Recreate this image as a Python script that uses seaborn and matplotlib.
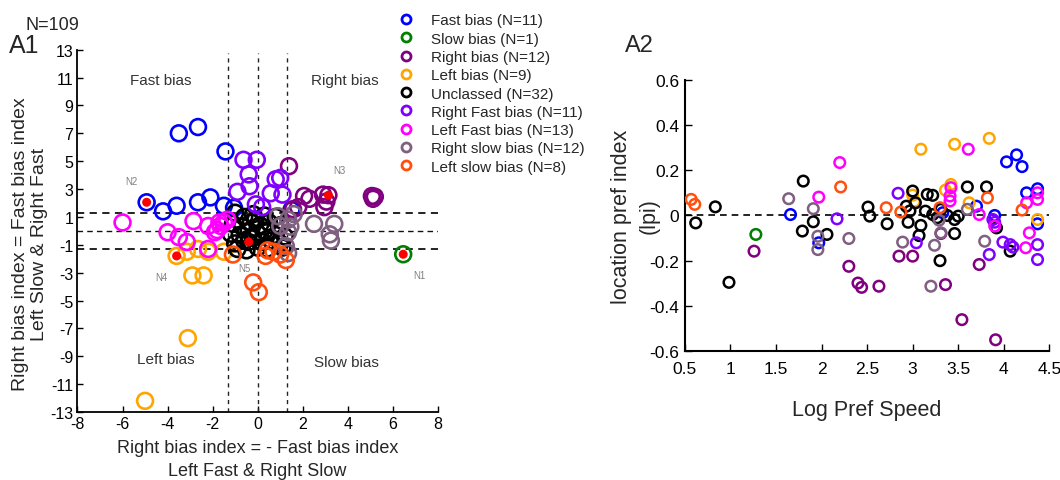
import matplotlib
matplotlib.use("Agg")
import matplotlib.pyplot as plt
from matplotlib.lines import Line2D
import seaborn as sns
import pandas as pd

# ---------------- data ----------------
CLASSES = ["Fast bias", "Slow bias", "Right bias", "Left bias", "Unclassed",
           "Right Fast bias", "Left Fast bias", "Right slow bias", "Left slow bias"]
COUNTS = [11, 1, 12, 9, 32, 11, 13, 12, 8]

# Panel A1: (x, y) per class
A1_FAST = [(-3.5, 7.0), (-2.65, 7.45), (-1.43, 5.7), (-4.93, 2.05), (-4.2, 1.4), (-3.6, 1.8),
           (-2.65, 2.05), (-2.1, 2.4), (-1.5, 1.8), (-1.05, 1.65), (1.5, 1.5)]
A1_SLOW = [(6.46, -1.68)]
A1_RIGHT = [(1.39, 4.64), (2.06, 2.5), (2.9, 2.6), (3.14, 2.56), (2.96, 1.7), (5.07, 2.5),
            (5.2, 2.45), (1.57, 1.55), (2.3, 2.3), (3.05, 2.1), (1.8, 1.7), (5.12, 2.3)]
A1_LEFT = [(-3.6, -1.8), (-3.15, -1.5), (-2.9, -3.2), (-2.4, -3.2), (-3.1, -7.7), (-5.0, -12.2),
           (-2.2, -1.5), (-1.5, -1.5), (-2.65, -1.3)]
A1_UNCL = [(-1.0, 1.3), (-0.6, 1.0), (-0.2, 1.2), (0.3, 1.1), (0.8, 1.0), (-1.1, 0.5), (-0.7, 0.3),
           (-0.3, 0.6), (0.1, 0.4), (0.5, 0.6), (1.0, 0.4), (-1.2, -0.2), (-0.8, -0.3), (-0.4, 0.0),
           (0.0, -0.2), (0.4, -0.1), (0.8, -0.3), (1.2, -0.4), (-1.0, -0.9), (-0.6, -0.7), (-0.2, -0.5),
           (0.2, -0.8), (0.6, -0.7), (1.0, -0.9), (-0.4, -0.8), (-0.9, -1.3), (-0.5, -1.4), (0.0, -1.2),
           (0.4, -1.3), (1.1, -1.2), (0.3, 0.0), (-0.1, 0.8)]
A1_RFAST = [(-0.63, 5.1), (-0.04, 5.1), (-0.4, 4.05), (-0.36, 3.2), (-0.9, 2.8), (0.8, 3.7),
            (1.0, 3.8), (0.58, 2.7), (1.1, 2.6), (-0.08, 1.9), (0.2, 1.7)]
A1_LFAST = [(-6.0, 0.6), (-4.0, -0.1), (-3.5, -0.45), (-3.15, -0.8), (-2.85, 0.7), (-2.2, 0.35),
            (-2.2, -1.3), (-1.8, 0.05), (-1.65, 0.35), (-1.5, 0.6), (-1.9, -0.1), (-1.35, 0.8), (-1.7, 0.6)]
A1_RSLOW = [(0.9, 1.05), (1.35, 0.8), (1.6, 1.2), (2.5, 0.5), (3.4, 0.5), (3.2, -0.25), (3.25, -0.7),
            (1.35, -0.1), (1.25, -1.1), (1.45, 0.3), (1.0, 0.35), (1.35, -1.6)]
A1_LSLOW = [(-1.1, -1.7), (0.35, -1.8), (0.7, -1.5), (1.0, -1.7), (1.25, -2.1), (-0.2, -3.7),
            (0.05, -4.4), (0.45, -1.4)]

# Panel A2: (log pref speed, lpi) per class
A2_FAST = [(1.66, 0.004), (1.97, -0.121), (4.03, 0.237), (4.14, 0.268), (4.2, 0.216), (4.25, 0.1),
           (4.37, 0.118), (4.37, -0.037), (3.7, 0.041), (3.9, 0.0), (3.33, 0.012)]
A2_SLOW = [(1.28, -0.084)]
A2_RIGHT = [(1.26, -0.158), (2.3, -0.225), (2.4, -0.299), (2.44, -0.318), (2.63, -0.313), (2.85, -0.18),
            (3.0, -0.18), (3.36, -0.306), (3.54, -0.461), (3.91, -0.55), (3.73, -0.217), (3.31, -0.08)]
A2_LEFT = [(3.09, 0.293), (3.46, 0.315), (3.84, 0.341), (3.42, 0.137), (3.36, 0.112), (3.62, 0.056),
           (4.37, -0.018), (3.0, 0.09), (3.02, 0.062)]
A2_UNCL = [(0.62, -0.033), (0.835, 0.038), (1.8, 0.152), (1.79, -0.069), (1.91, -0.028), (2.06, -0.084),
           (2.51, 0.037), (2.53, -0.003), (2.72, -0.037), (2.95, -0.03), (3.0, 0.108), (2.93, 0.041),
           (3.03, 0.056), (3.09, -0.044), (3.07, -0.089), (3.16, 0.093), (3.22, 0.089), (3.14, 0.019),
           (3.22, 0.004), (3.31, 0.027), (3.46, -0.018), (3.5, -0.003), (3.46, -0.08), (3.6, 0.126),
           (3.81, 0.126), (3.92, -0.055), (0.985, -0.296), (3.3, -0.2), (4.07, -0.158), (3.27, -0.01),
           (2.97, 0.02), (3.38, 0.0)]
A2_RFAST = [(2.17, -0.015), (2.84, 0.098), (3.04, -0.121), (3.88, -0.018), (3.99, -0.118), (4.07, -0.129),
            (4.37, -0.129), (3.84, -0.173), (4.37, -0.195), (3.9, -0.03), (4.1, -0.14)]
A2_LFAST = [(1.97, 0.081), (2.2, 0.234), (3.61, 0.293), (3.42, 0.123), (3.41, 0.086), (3.41, 0.064),
            (3.73, 0.004), (3.9, -0.047), (4.25, 0.056), (4.37, 0.1), (4.37, 0.071), (4.28, -0.077),
            (4.24, -0.143)]
A2_RSLOW = [(1.64, 0.074), (1.91, 0.03), (1.96, -0.092), (1.96, -0.151), (2.3, -0.102), (3.6, 0.027),
            (3.29, -0.021), (3.31, -0.077), (2.89, -0.118), (3.24, -0.132), (3.79, -0.114), (3.2, -0.313)]
A2_LSLOW = [(0.57, 0.071), (0.61, 0.049), (2.21, 0.126), (2.71, 0.034), (2.87, 0.015), (3.3, 0.034),
            (3.82, 0.078), (4.2, 0.024)]

# Example neurons highlighted in A1
EX_LABELS = ["N1", "N2", "N3", "N4", "N5"]
EX_X = [6.46, -4.93, 3.14, -3.6, -0.4]
EX_Y = [-1.68, 2.05, 2.56, -1.8, -0.8]

REGION_LABELS = ["Fast bias", "Right bias", "Left bias", "Slow bias"]

A1_TICKS_X = [-8, -6, -4, -2, 0, 2, 4, 6, 8]
A1_TICKS_Y = [-13, -11, -9, -7, -5, -3, -1, 1, 3, 5, 7, 9, 11, 13]
A2_TICKS_X = [0.5, 1, 1.5, 2, 2.5, 3, 3.5, 4, 4.5]
A2_TICK_LABELS_X = ["0.5", "1", "1.5", "2", "2.5", "3", "3.5", "4", "4.5"]
A2_TICKS_Y = [-0.6, -0.4, -0.2, 0, 0.2, 0.4, 0.6]
A2_TICK_LABELS_Y = ["-0.6", "-0.4", "-0.2", "0", "0.2", "0.4", "0.6"]

# ---------------- style ----------------
PALETTE = {
    "Fast bias": "#0000FF", "Slow bias": "#008000", "Right bias": "#800080",
    "Left bias": "#FFA500", "Unclassed": "#000000", "Right Fast bias": "#8000FF",
    "Left Fast bias": "#FF00FF", "Right slow bias": "#806080", "Left slow bias": "#FF5010",
}

sns.set_theme(style="white")
plt.rcParams["font.family"] = ["Liberation Sans", "DejaVu Sans"]

a1_sets = [A1_FAST, A1_SLOW, A1_RIGHT, A1_LEFT, A1_UNCL, A1_RFAST, A1_LFAST, A1_RSLOW, A1_LSLOW]
a2_sets = [A2_FAST, A2_SLOW, A2_RIGHT, A2_LEFT, A2_UNCL, A2_RFAST, A2_LFAST, A2_RSLOW, A2_LSLOW]


def to_df(sets):
    rows = []
    for cls, pts in zip(CLASSES, sets):
        for x, y in pts:
            rows.append({"x": x, "y": y, "cls": cls})
    return pd.DataFrame(rows)


df1 = to_df(a1_sets)
df2 = to_df(a2_sets)

fig = plt.figure(figsize=(10.6, 4.81), dpi=100)
ax1 = fig.add_axes([0.0731, 0.1414, 0.340, 0.7532])
ax2 = fig.add_axes([0.646, 0.268, 0.344, 0.564])


def hollow(ax, lw):
    coll = ax.collections[-1]
    fc = coll.get_facecolors()
    coll.set_edgecolors(fc)
    coll.set_facecolors("none")
    coll.set_linewidths(lw)


# ---- A1 ----
for xv in (-1.3, 0, 1.3):
    ax1.axvline(xv, ymax=0.99, color="#222222", lw=1.0, ls=(0, (3, 3)), zorder=1)
for yv, lw in ((1.3, 1.3), (0, 1.0), (-1.3, 1.3)):
    ax1.axhline(yv, color="#111111", lw=lw, ls=(0, (4, 3)), zorder=1)

sns.scatterplot(data=df1, x="x", y="y", hue="cls", palette=PALETTE, hue_order=CLASSES,
                s=130, marker="o", legend=False, ax=ax1, zorder=3)
hollow(ax1, 1.9)
sns.scatterplot(x=EX_X, y=EX_Y, color="red", s=42, marker="o", edgecolor="none",
                legend=False, ax=ax1, zorder=4)

offsets = [(12, -15), (-11, 15), (8, 18), (-11, -15), (-3, -19)]
for lab, x, y, off in zip(EX_LABELS, EX_X, EX_Y, offsets):
    ax1.annotate(lab, (x, y), xytext=off, textcoords="offset points", fontsize=7,
                 color="#808080", ha="center", va="center")

region_pos = [(-4.3, 10.8), (3.85, 10.8), (-4.1, -9.2), (3.95, -9.4)]
for lab, (x, y) in zip(REGION_LABELS, region_pos):
    ax1.text(x, y, lab, fontsize=11, color="#333333", ha="center", va="center")

ax1.set_xlim(-8, 8)
ax1.set_ylim(-13, 13)
ax1.set_xticks(A1_TICKS_X)
ax1.set_yticks(A1_TICKS_Y)
ax1.set_xticklabels([str(t) for t in A1_TICKS_X], fontsize=11.5)
ax1.set_yticklabels([str(t) for t in A1_TICKS_Y], fontsize=11.5)
ax1.tick_params(direction="in", length=4, width=1.0, colors="black", pad=3,
                bottom=True, left=True)
for side in ("top", "right"):
    ax1.spines[side].set_visible(False)
for side in ("left", "bottom"):
    ax1.spines[side].set_color("black")
    ax1.spines[side].set_linewidth(1.3)
ax1.set_xlabel("Right bias index = - Fast bias index\nLeft Fast & Right Slow",
               fontsize=13, labelpad=6, linespacing=1.45)
ax1.set_ylabel("Right bias index = Fast bias index\nLeft Slow & Right Fast",
               fontsize=14, linespacing=1.15)
ax1.yaxis.set_label_coords(-0.083, 0.465)

# ---- A2 ----
ax2.axhline(0, color="black", lw=1.2, ls=(0, (4, 3)), zorder=1)
sns.scatterplot(data=df2, x="x", y="y", hue="cls", palette=PALETTE, hue_order=CLASSES,
                s=58, marker="o", legend=False, ax=ax2, zorder=3)
hollow(ax2, 1.8)
ax2.set_xlim(0.5, 4.5)
ax2.set_ylim(-0.6, 0.6)
ax2.set_xticks(A2_TICKS_X)
ax2.set_xticklabels(A2_TICK_LABELS_X, fontsize=12.5)
ax2.set_yticks(A2_TICKS_Y)
ax2.set_yticklabels(A2_TICK_LABELS_Y, fontsize=12.5)
ax2.tick_params(axis="x", direction="in", length=5, width=1.0, colors="black", pad=7)
ax2.tick_params(axis="y", direction="in", length=5, width=1.0, colors="black", pad=4)
ax2.tick_params(bottom=True, left=True)
for side in ("top", "right"):
    ax2.spines[side].set_visible(False)
for side in ("left", "bottom"):
    ax2.spines[side].set_color("black")
    ax2.spines[side].set_linewidth(1.5)
ax2.set_xlabel("Log Pref Speed", fontsize=15.5, labelpad=17)
ax2.set_ylabel("location pref index", fontsize=15.5)
ax2.yaxis.set_label_coords(-0.145, 0.5)
ax2.text(-0.097, 0.5, "(lpi)", transform=ax2.transAxes, rotation=90, fontsize=15.5,
         ha="center", va="center")

# ---- legend ----
handles = [Line2D([], [], ls="", marker="o", markersize=6.5, markerfacecolor="none",
                  markeredgecolor=PALETTE[c], markeredgewidth=2.0) for c in CLASSES]
labels = [f"{c} (N={n})" for c, n in zip(CLASSES, COUNTS)]
fig.legend(handles, labels, loc="upper left", bbox_to_anchor=(0.377, 0.97),
           frameon=False, fontsize=11, handlelength=0.9, handletextpad=1.15,
           labelspacing=0.28, borderpad=0, borderaxespad=0)

# ---- panel titles ----
fig.text(0.008, 0.905, "A1", fontsize=18, ha="left", va="center")
fig.text(0.024, 0.946, "N=109", fontsize=13, ha="left", va="center")
fig.text(0.59, 0.905, "A2", fontsize=17, ha="left", va="center")

fig.savefig("out.png", dpi=100)
